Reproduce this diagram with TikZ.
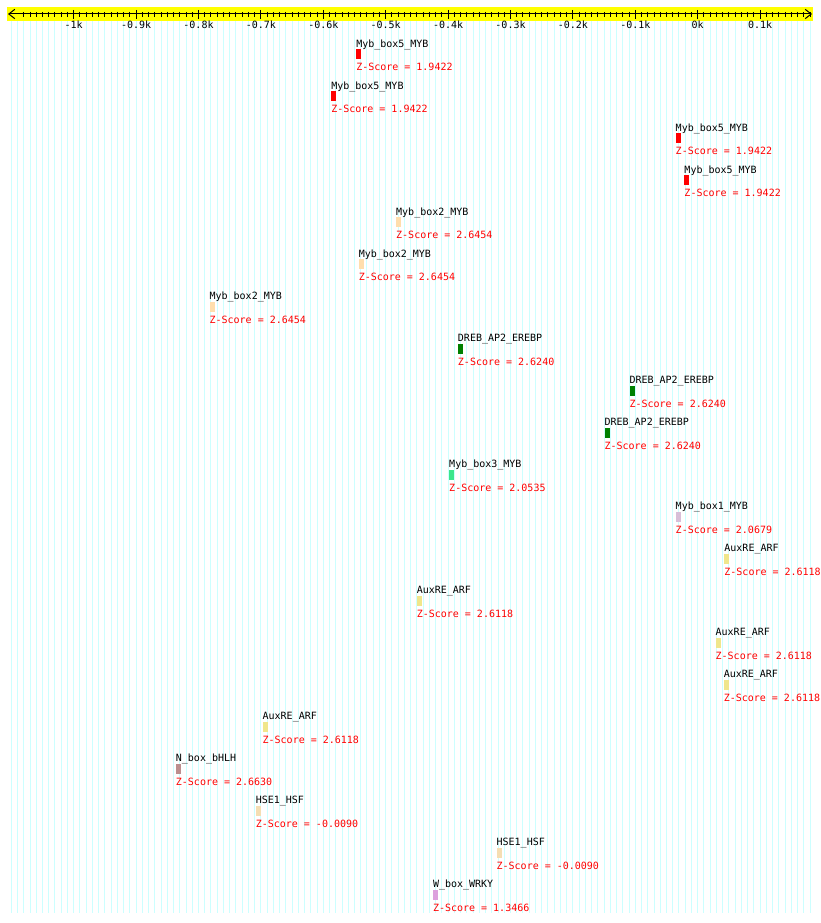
\documentclass[tikz,border=0pt]{standalone}
\usepackage{fontspec}
\setmonofont{DejaVu Sans Mono}
\usepackage{xcolor}
\usetikzlibrary{
  arrows.meta,
  positioning
}
\definecolor{gridcyan}{RGB}{204,255,255}
\definecolor{rulerbg}{RGB}{255,255,0}
\definecolor{mybfive}{RGB}{255,0,0}
\definecolor{mybtwo}{RGB}{255,222,173}
\definecolor{dreb}{RGB}{0,128,0}
\definecolor{mybthree}{RGB}{60,230,140}
\definecolor{mybone}{RGB}{216,191,216}
\definecolor{auxre}{RGB}{240,230,140}
\definecolor{nbox}{RGB}{188,143,143}
\definecolor{hse}{RGB}{245,222,179}
\definecolor{wbox}{RGB}{221,160,221}
\tikzset{
  >=stealth,
  every picture/.style={line width=0.75pt},
  txt/.style={font=\ttfamily\fontsize{7.5}{9}\selectfont, inner sep=0pt},
  motifname/.style={txt, text=black},
  zscore/.style={txt, text=red},
  motifbar/.style={draw=none, inner sep=0pt, minimum width=3.75pt, minimum height=7.5pt, anchor=north west},
  gridline/.style={gridcyan, line width=0.75pt},
  ticklabel/.style={txt, anchor=base},
  barb/.style={{Straight Barb[length=4.5pt,width=7pt]}-{Straight Barb[length=4.5pt,width=7pt]}}
}

\begin{document}
\begin{tikzpicture}[x=0.75pt, y=-0.75pt]
  \pgfmathsetmacro{\xo}{697.7}
  \pgfmathsetmacro{\bp}{0.624}

  \useasboundingbox (0,0) rectangle (820,923);
  \fill[white] (0,0) rectangle (820,923);

  % background grid, one line every 10 bp
  \foreach \p in {-1100,-1090,...,180}
    \draw[gridline] ({\xo+\bp*(\p)},21) -- ({\xo+\bp*(\p)},913);

  % ruler
  \fill[rulerbg] (7,7) rectangle (813,21);
  \coordinate (rl) at (8,14);
  \coordinate (rr) at (812,14);
  \draw[barb] (rl) -- (rr);
  \foreach \p in {-1080,-1070,...,180}
    \draw ({\xo+\bp*(\p)},12) -- ({\xo+\bp*(\p)},17);
  \foreach \p/\t [count=\k] in {-1000/-1k,-900/-0.9k,-800/-0.8k,-700/-0.7k,
      -600/-0.6k,-500/-0.5k,-400/-0.4k,-300/-0.3k,-200/-0.2k,-100/-0.1k,
      0/0k,100/0.1k}{
    \draw ({\xo+\bp*(\p)},10) -- ({\xo+\bp*(\p)},19);
    \node[ticklabel] (t\k) at ({\xo+\bp*(\p)},28.3) {\t};
  }

  % motif hits
  \foreach \nm/\p/\col/\z [count=\i from 0] in {
      Myb\_box5\_MYB/-548/mybfive/1.9422,
      Myb\_box5\_MYB/-588/mybfive/1.9422,
      Myb\_box5\_MYB/-36/mybfive/1.9422,
      Myb\_box5\_MYB/-22/mybfive/1.9422,
      Myb\_box2\_MYB/-484/mybtwo/2.6454,
      Myb\_box2\_MYB/-544/mybtwo/2.6454,
      Myb\_box2\_MYB/-783/mybtwo/2.6454,
      DREB\_AP2\_EREBP/-385/dreb/2.6240,
      DREB\_AP2\_EREBP/-110/dreb/2.6240,
      DREB\_AP2\_EREBP/-150/dreb/2.6240,
      Myb\_box3\_MYB/-399/mybthree/2.0535,
      Myb\_box1\_MYB/-36/mybone/2.0679,
      AuxRE\_ARF/42/auxre/2.6118,
      AuxRE\_ARF/-451/auxre/2.6118,
      AuxRE\_ARF/28/auxre/2.6118,
      AuxRE\_ARF/41/auxre/2.6118,
      AuxRE\_ARF/-698/auxre/2.6118,
      N\_box\_bHLH/-837/nbox/2.6630,
      HSE1\_HSF/-709/hse/-0.0090,
      HSE1\_HSF/-323/hse/-0.0090,
      W\_box\_WRKY/-425/wbox/1.3466}{
    \node[motifbar, fill=\col] (b\i) at ({\xo+\bp*(\p)},{49+42*\i}) {};
    \node[motifname, above=1.3pt of b\i.north west, anchor=base west] (n\i) {\nm};
    \node[zscore, below=8.25pt of b\i.south west, anchor=base west] (z\i) {Z-Score = \z};
  }
\end{tikzpicture}
\end{document}
